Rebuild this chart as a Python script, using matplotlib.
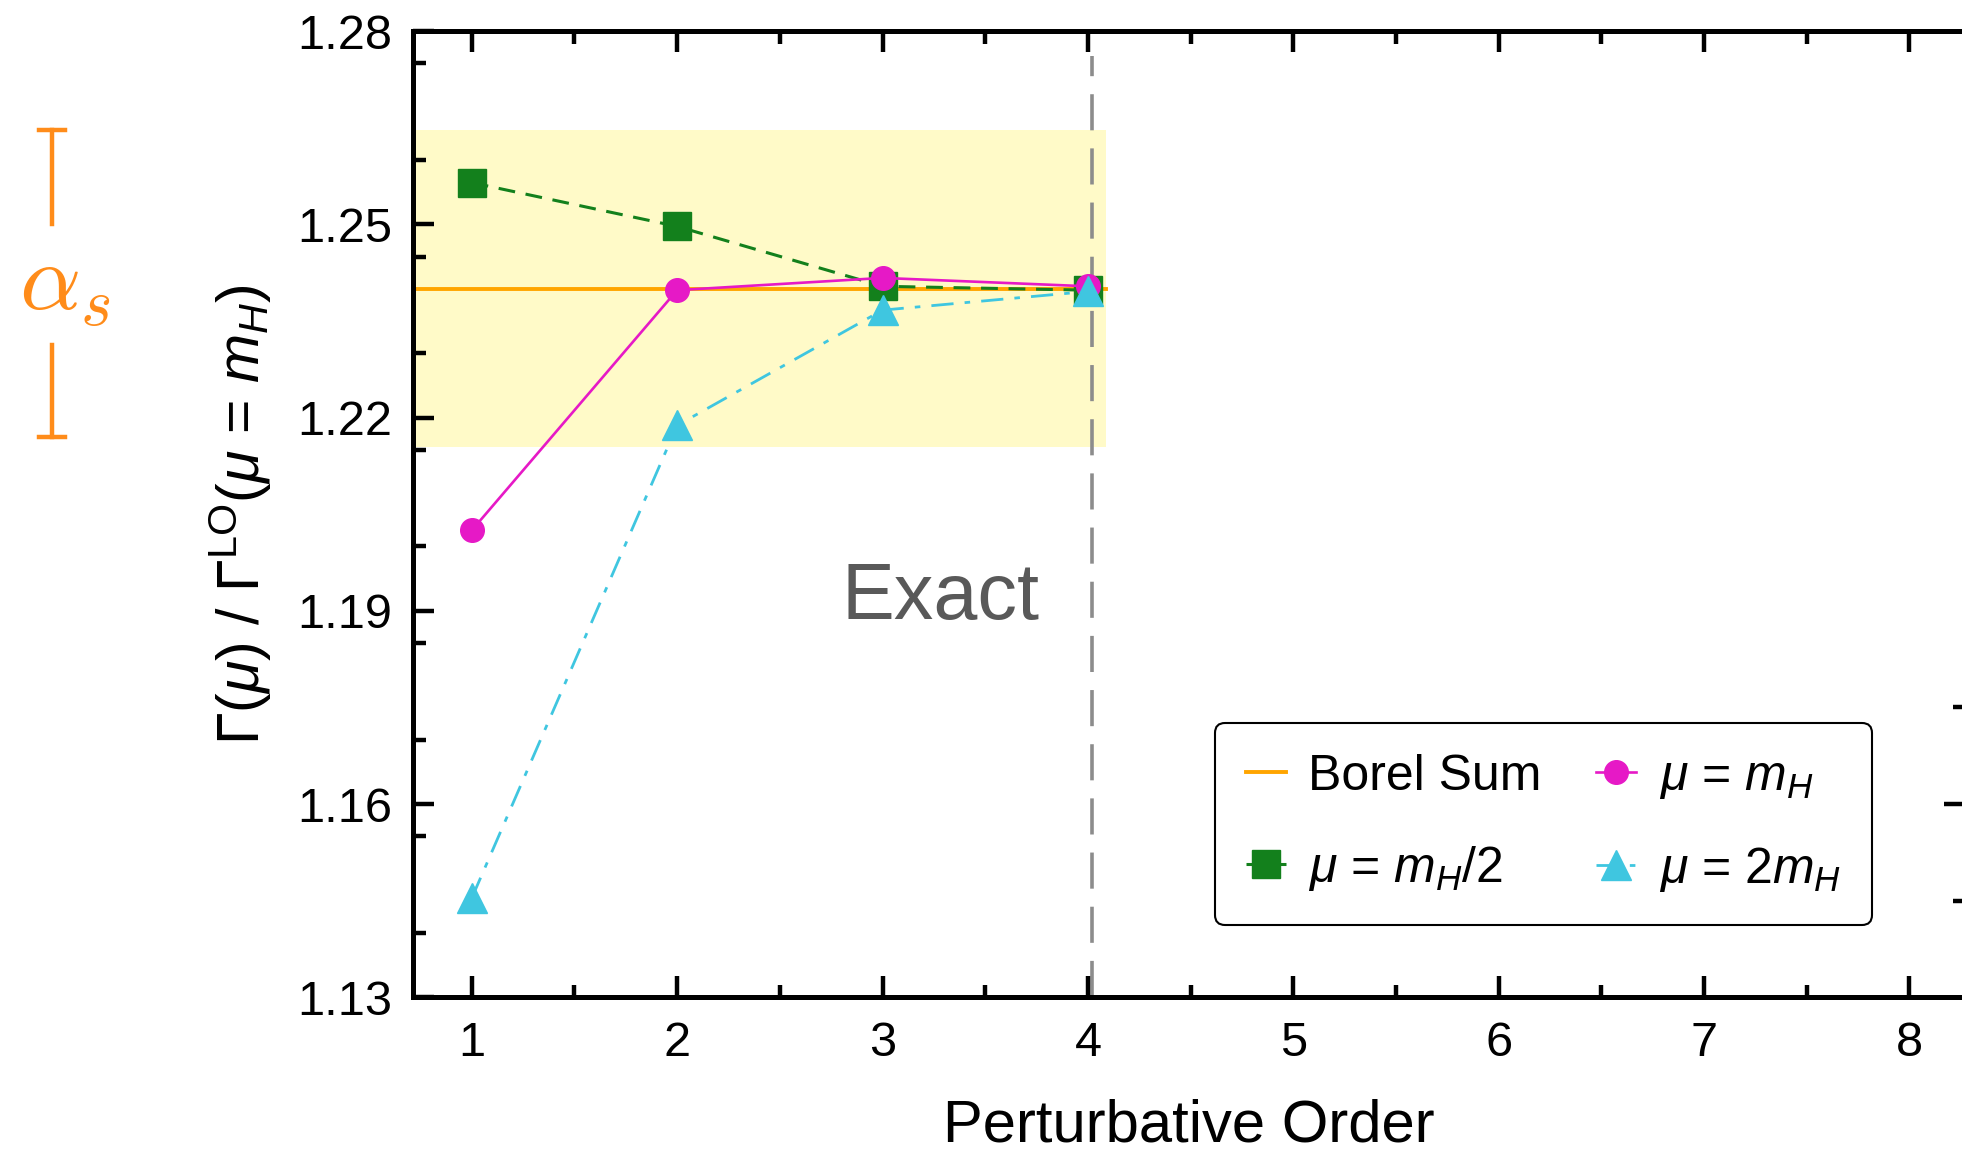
import matplotlib
matplotlib.use("Agg")
import matplotlib.pyplot as plt
from matplotlib.ticker import MultipleLocator, FixedLocator
from matplotlib.transforms import blended_transform_factory

# ---- data -------------------------------------------------------------
orders = [1, 2, 3, 4]
mu_half = [1.2565, 1.2497, 1.2404, 1.2398]   # mu = m_H/2
mu_one = [1.2025, 1.2398, 1.2417, 1.2404]    # mu = m_H
mu_two = [1.1454, 1.2188, 1.2367, 1.2396]    # mu = 2 m_H
borel_sum = 1.2400
band_lo, band_hi = 1.2155, 1.2647            # alpha_s uncertainty band
band_xmax = 4.09
exact_order = 4.02
alpha_bar = [1.2170, 1.2647]
alpha_gap = [1.2313, 1.2501]
xticks = [1, 2, 3, 4, 5, 6, 7, 8]
yticks = [1.13, 1.16, 1.19, 1.22, 1.25, 1.28]
right_major = [1.16]
right_minor = [1.145, 1.175]

# ---- style ------------------------------------------------------------
plt.rcParams['font.family'] = ['Liberation Sans', 'DejaVu Sans']
plt.rcParams['mathtext.fontset'] = 'custom'
plt.rcParams['mathtext.rm'] = 'Liberation Sans'
plt.rcParams['mathtext.it'] = 'Liberation Sans:italic'
plt.rcParams['mathtext.bf'] = 'Liberation Sans:bold'

c_green = '#13801C'
c_mag = '#E619C6'
c_cyan = '#3FC6E0'
c_orange = '#FFA500'
c_alpha = '#FF8C1A'
c_band = '#FFFAC8'

fig = plt.figure(figsize=(19.62, 11.54), dpi=100)
ax = fig.add_axes([0.2105, 0.1358, 0.7910, 0.8371])

ax.set_xlim(0.714, 8.27)
ax.set_ylim(1.13, 1.28)

# uncertainty band and Borel sum
xl = ax.get_xlim()[0]
ax.fill_between([xl, band_xmax], band_lo, band_hi, color=c_band, lw=0, zorder=0)
borel, = ax.plot([xl, band_xmax], [borel_sum, borel_sum], color=c_orange, lw=2.8,
                 zorder=2, label='Borel Sum')

# exact result marker
ax.axvline(exact_order, ymin=0, ymax=0.974, color='#8C8C8C', lw=2.6,
           dashes=(10, 5), zorder=1)

# perturbative series at different scales
l_half, = ax.plot(orders, mu_half, color=c_green, lw=2.2, dashes=(5.5, 3.5),
                  marker='s', ms=20.5, mec=c_green, zorder=3,
                  label=r'$\mu$ = $m_H$/2')
l_one, = ax.plot(orders, mu_one, color=c_mag, lw=1.9, marker='o', ms=17,
                 mec=c_mag, zorder=4, label=r'$\mu$ = $m_H$')
l_two, = ax.plot(orders, mu_two, color=c_cyan, lw=2.0, dashes=(8, 4, 2, 4),
                 marker='^', ms=21, mec=c_cyan, zorder=5,
                 label=r'$\mu$ = 2$m_H$')

ax.text(3.284, 1.1919, 'Exact', color='#595959', fontsize=57,
        ha='center', va='center')

# axes styling
for s in ax.spines.values():
    s.set_linewidth(3.6)
ax.xaxis.set_major_locator(FixedLocator(xticks))
ax.xaxis.set_minor_locator(MultipleLocator(0.5))
ax.yaxis.set_major_locator(FixedLocator(yticks))
ax.yaxis.set_minor_locator(MultipleLocator(0.015))
ax.tick_params(which='both', direction='in', top=True, right=False, width=3.2)
ax.tick_params(which='major', length=15)
ax.tick_params(which='minor', length=9)
ax.tick_params(axis='x', which='major', labelsize=35, pad=17)
ax.tick_params(axis='y', which='major', labelsize=35, pad=15)
ax.set_yticklabels(['%.2f' % v for v in yticks])

# right-hand ticks
sec = ax.secondary_yaxis('right')
sec.yaxis.set_major_locator(FixedLocator(right_major))
sec.yaxis.set_minor_locator(FixedLocator(right_minor))
sec.tick_params(which='both', direction='in', width=3.2, labelright=False)
sec.tick_params(which='major', length=15)
sec.tick_params(which='minor', length=9)
sec.spines['right'].set_linewidth(3.6)

ax.set_xlabel('Perturbative Order', fontsize=43)
ax.xaxis.set_label_coords(0.5, -0.1488)
ax.xaxis.label.set_va('baseline')
ax.set_ylabel(r'$\Gamma(\mu)$ / $\Gamma^{\mathrm{LO}}(\mu$ = $m_H)$', fontsize=42.5)
ax.yaxis.set_label_coords(-0.111, 0.5)
ax.yaxis.label.set_va('center')

leg = ax.legend(handles=[borel, l_half, l_one, l_two], ncol=2, fontsize=36,
                loc='upper left', bbox_to_anchor=(0.5165, 0.284),
                borderaxespad=0, frameon=True, fancybox=True, framealpha=1,
                edgecolor='black', handlelength=0.8, handletextpad=0.45,
                columnspacing=1.1, labelspacing=0.88, borderpad=0.62)
leg.get_frame().set_linewidth(1.5)

# alpha_s indicator on the left
tr = blended_transform_factory(fig.transFigure, ax.transData)
xb = 0.0265
cap = 0.0064
kw = dict(color=c_alpha, lw=3.2, transform=tr, clip_on=False)
fig.lines.append(plt.Line2D([xb, xb], [alpha_gap[1], alpha_bar[1]], **kw))
fig.lines.append(plt.Line2D([xb, xb], [alpha_bar[0], alpha_gap[0]], **kw))
fig.lines.append(plt.Line2D([xb - cap, xb + cap], [alpha_bar[1]] * 2, **kw))
fig.lines.append(plt.Line2D([xb - cap, xb + cap], [alpha_bar[0]] * 2, **kw))
fig.text(0.0331, (alpha_gap[0] + alpha_gap[1]) / 2, r'$\alpha_s$', transform=tr,
         color=c_alpha, fontsize=69, math_fontfamily='cm',
         ha='center', va='center')

fig.savefig('out.png', dpi=100)
